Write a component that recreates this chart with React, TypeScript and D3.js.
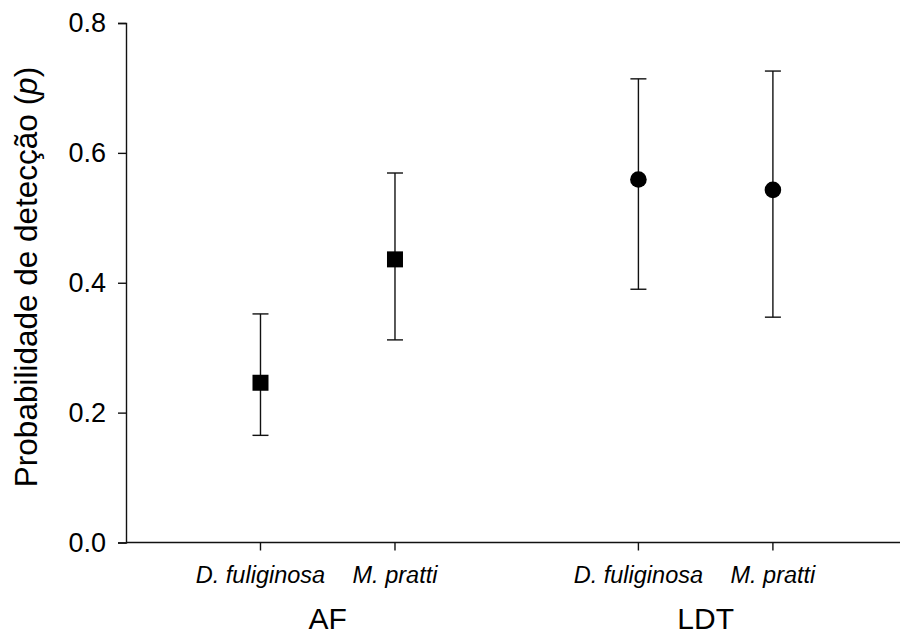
import React, { useEffect, useRef } from 'react'
import * as d3 from 'd3'

// values
const species = ['D. fuliginosa', 'M. pratti', 'D. fuliginosa', 'M. pratti']
const groups = ['AF', 'AF', 'LDT', 'LDT']
const groupLabels = ['AF', 'LDT']
const xPositions = [1, 2, 3.81, 4.81]
const pValues = [0.246, 0.436, 0.559, 0.543]
const lowerCI = [0.165, 0.312, 0.39, 0.347]
const upperCI = [0.352, 0.569, 0.714, 0.726]
const yTicks = [0, 0.2, 0.4, 0.6, 0.8]

const WIDTH = 900
const HEIGHT = 636

export default function App() {
  const ref = useRef<SVGSVGElement>(null)

  useEffect(() => {
    const svg = d3.select(ref.current)
    svg.selectAll('*').remove()

    const x = d3.scaleLinear().domain([0, 5.755]).range([126, 900])
    const y = d3.scaleLinear().domain([0, 0.8]).range([542.5, 23])
    const font = 'Arial, "Liberation Sans", sans-serif'
    const ink = '#111'

    // y axis
    const yAxis = svg.append('g')
      .attr('transform', `translate(${x(0)},0)`)
      .call(d3.axisLeft(y).tickValues(yTicks).tickFormat(d3.format('.1f')).tickSize(8).tickPadding(12))
    yAxis.attr('font-size', null).attr('font-family', null)
    yAxis.select('.domain').attr('stroke', ink).attr('stroke-width', 1.4)
    yAxis.selectAll('.tick line').attr('stroke', ink).attr('stroke-width', 1.4)
    yAxis.selectAll('.tick text')
      .attr('font-family', font).attr('font-size', 27).attr('fill', '#000')

    // x axis line and ticks
    svg.append('line')
      .attr('x1', x(0)).attr('x2', WIDTH)
      .attr('y1', y(0)).attr('y2', y(0))
      .attr('stroke', ink).attr('stroke-width', 1.4)

    svg.append('g').selectAll('line')
      .data(xPositions)
      .enter().append('line')
      .attr('x1', d => x(d)).attr('x2', d => x(d))
      .attr('y1', y(0)).attr('y2', y(0) + 8)
      .attr('stroke', ink).attr('stroke-width', 1.4)

    // species labels
    svg.append('g').selectAll('text')
      .data(species)
      .enter().append('text')
      .attr('x', (d, i) => x(xPositions[i]))
      .attr('y', 583)
      .attr('text-anchor', 'middle')
      .attr('font-family', font).attr('font-size', 23.5).attr('font-style', 'italic')
      .text(d => d)

    // group labels centred under their species
    svg.append('g').selectAll('text')
      .data(groupLabels)
      .enter().append('text')
      .attr('x', g => x(d3.mean(xPositions.filter((p, i) => groups[i] === g)) as number))
      .attr('y', 629)
      .attr('text-anchor', 'middle')
      .attr('font-family', font).attr('font-size', 30)
      .text(d => d)

    // y label
    const yLabel = svg.append('text')
      .attr('transform', 'translate(37,277) rotate(-90)')
      .attr('text-anchor', 'middle')
      .attr('font-family', font).attr('font-size', 31.5)
    yLabel.append('tspan').text('Probabilidade de detecção (')
    yLabel.append('tspan').attr('font-style', 'italic').text('p')
    yLabel.append('tspan').text(')')

    // error bars
    const bars = svg.append('g').selectAll('g')
      .data(pValues)
      .enter().append('g')
      .attr('stroke', ink).attr('stroke-width', 1.4)
    bars.append('line')
      .attr('x1', (d, i) => x(xPositions[i])).attr('x2', (d, i) => x(xPositions[i]))
      .attr('y1', (d, i) => y(lowerCI[i])).attr('y2', (d, i) => y(upperCI[i]))
    bars.append('line')
      .attr('x1', (d, i) => x(xPositions[i]) - 8).attr('x2', (d, i) => x(xPositions[i]) + 8)
      .attr('y1', (d, i) => y(upperCI[i])).attr('y2', (d, i) => y(upperCI[i]))
    bars.append('line')
      .attr('x1', (d, i) => x(xPositions[i]) - 8).attr('x2', (d, i) => x(xPositions[i]) + 8)
      .attr('y1', (d, i) => y(lowerCI[i])).attr('y2', (d, i) => y(lowerCI[i]))

    // markers: squares for AF, circles for LDT
    const pts = pValues.map((v, i) => ({ v, i, g: groups[i] }))
    svg.append('g').selectAll('rect')
      .data(pts.filter(d => d.g === 'AF'))
      .enter().append('rect')
      .attr('x', d => x(xPositions[d.i]) - 8).attr('y', d => y(d.v) - 8)
      .attr('width', 16).attr('height', 16)
      .attr('fill', '#000')
    svg.append('g').selectAll('circle')
      .data(pts.filter(d => d.g === 'LDT'))
      .enter().append('circle')
      .attr('cx', d => x(xPositions[d.i])).attr('cy', d => y(d.v))
      .attr('r', 8.3)
      .attr('fill', '#000')
  }, [])

  return (
    <svg
      ref={ref}
      width={WIDTH}
      height={HEIGHT}
      style={{ position: 'absolute', left: 0, top: 0, background: '#fff' }}
    />
  )
}
